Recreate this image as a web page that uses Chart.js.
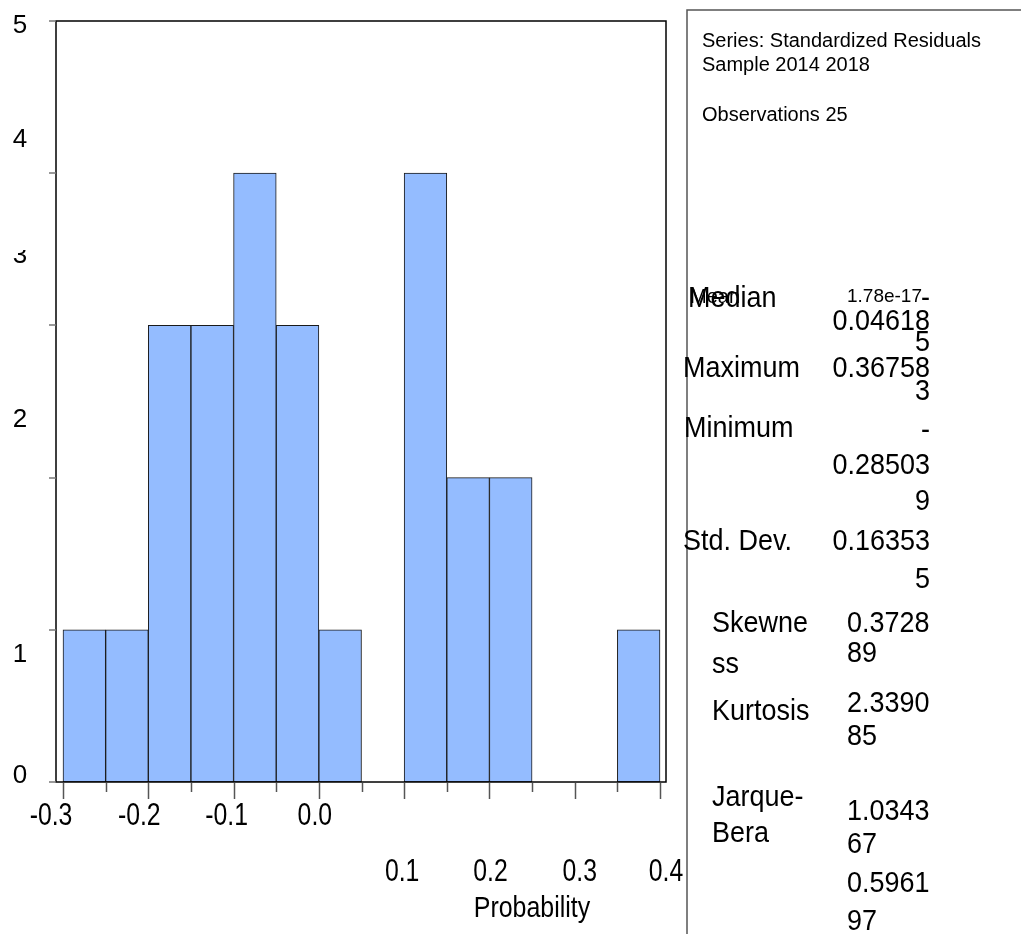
<!DOCTYPE html>
<html>
<head>
<meta charset="utf-8">
<title>Standardized Residuals histogram</title>
<script src="https://cdn.jsdelivr.net/npm/chart.js@4/dist/chart.umd.min.js"></script>
<style>
    html, body { margin: 0; padding: 0; background: #fff; }
    #wrap { position: relative; width: 1021px; height: 934px; }
</style>
</head>
<body>
<div id="wrap"><canvas id="hist" width="1021" height="934"></canvas></div>
<script>
// ==========================================================
// DATA
// ==========================================================
const binCenters = [-0.275, -0.225, -0.175, -0.125, -0.075, -0.025, 0.025,
                    0.075, 0.125, 0.175, 0.225, 0.275, 0.325, 0.375];
const counts = [1, 1, 3, 3, 4, 3, 1, 0, 4, 2, 2, 0, 0, 1];
const binEdges = [-0.3, -0.25, -0.2, -0.15, -0.1, -0.05, 0.0, 0.05,
                  0.1, 0.15, 0.2, 0.25, 0.3, 0.35, 0.4];
const xTickValues = [-0.3, -0.2, -0.1, 0.0, 0.1, 0.2, 0.3, 0.4];
const xTickLabels = ['-0.3', '-0.2', '-0.1', '0.0', '0.1', '0.2', '0.3', '0.4'];
const yTickValues = [0, 1, 2, 3, 4, 5];
const yTickLabels = ['0', '1', '2', '3', '4', '5'];

const headerLines = ['Series: Standardized Residuals', 'Sample 2014 2018', 'Observations 25'];
const statNames = ['Mean', 'Median', 'Maximum', 'Minimum', 'Std. Dev.', 'Skewness', 'Kurtosis', 'Jarque-Bera', 'Probability'];
const statValues = ['1.78e-17', '-0.046185', '0.367583', '-0.285039', '0.163535', '0.372889', '2.339085', '1.034367', '0.596197'];

// ==========================================================
// LAYOUT (pixel positions of the text, as in the export)
// ==========================================================
const FONT = "'Liberation Sans', Arial, sans-serif";
const BAR_FILL = 'rgb(148, 188, 255)';

// y labels are drawn a bit off their ticks, like the original
const yLabelBaselines = [783, 662, 427, 263, 147, 33];
const yLabelClipTop = [0, 0, 0, 250, 0, 0];
// x labels: negatives on the first row, positives dropped to a second row
const xLabelBaselines = [825, 825, 825, 825, 881, 881, 881, 881];
const xLabelShift = [-12, -9, -7, -4, -2, 1, 5, 6];

// stats panel, each piece of text placed on its own
// [text, x, baseline, size, align, scaleX]
function statsPieces() {
    const v = statValues;
    const B = 29, S = 0.93;
    return [
        [headerLines[0], 702, 47, 20, 'left', 1],
        [headerLines[1], 702, 71, 20, 'left', 1],
        [headerLines[2], 702, 121, 20, 'left', 1],

        [statNames[1], 688, 307, B, 'left', S],
        [statNames[0], 690, 303, 20, 'left', 1],
        [v[0], 922, 302, 19, 'right', 1],
        [v[1].slice(0, 1), 930, 307, B, 'right', S],
        [v[1].slice(1, 8), 930, 330, B, 'right', S],
        [v[1].slice(8), 930, 351, B, 'right', S],

        [statNames[2], 683, 377, B, 'left', S],
        [v[2].slice(0, 7), 930, 377, B, 'right', S],
        [v[2].slice(7), 930, 400, B, 'right', S],

        [statNames[3], 684, 437, B, 'left', S],
        [v[3].slice(0, 1), 930, 439, B, 'right', S],
        [v[3].slice(1, 8), 930, 474, B, 'right', S],
        [v[3].slice(8), 930, 510, B, 'right', S],

        [statNames[4], 683, 550, B, 'left', S],
        [v[4].slice(0, 7), 930, 550, B, 'right', S],
        [v[4].slice(7), 930, 588, B, 'right', S],

        [statNames[5].slice(0, 6), 712, 632, B, 'left', S],
        [statNames[5].slice(6), 712, 673, B, 'left', S],
        [v[5].slice(0, 6), 847, 632, B, 'left', S],
        [v[5].slice(6), 847, 662, B, 'left', S],

        [statNames[6], 712, 720, B, 'left', S],
        [v[6].slice(0, 6), 847, 712, B, 'left', S],
        [v[6].slice(6), 847, 745, B, 'left', S],

        [statNames[7].slice(0, 7), 712, 806, B, 'left', S],
        [statNames[7].slice(7), 712, 842, B, 'left', S],
        [v[7].slice(0, 6), 847, 820, B, 'left', S],
        [v[7].slice(6), 847, 853, B, 'left', S],

        [v[8].slice(0, 6), 847, 892, B, 'left', S],
        [v[8].slice(6), 847, 930, B, 'left', S]
    ];
}

function drawScaledText(ctx, txt, x, y, sx) {
    ctx.save();
    ctx.translate(x, y);
    ctx.scale(sx, 1);
    ctx.fillText(txt, 0, 0);
    ctx.restore();
}

// ==========================================================
// AXES + PANEL PLUGIN
// ==========================================================
const eviewsPlugin = {
    id: 'eviewsFrame',
    afterDatasetsDraw(chart) {
        const ctx = chart.ctx;
        const area = chart.chartArea;
        const xs = chart.scales.x;
        const ys = chart.scales.y;
        ctx.save();

        // plot frame
        ctx.strokeStyle = '#000';
        ctx.lineWidth = 1.5;
        ctx.strokeRect(area.left, area.top, area.right - area.left, area.bottom - area.top);

        // y tick marks
        ctx.strokeStyle = '#777';
        yTickValues.forEach(v => {
            const y = Math.round(ys.getPixelForValue(v));
            ctx.beginPath();
            ctx.moveTo(area.left - 7, y);
            ctx.lineTo(area.left, y);
            ctx.stroke();
        });

        // x tick marks, longer on the labelled ones
        ctx.strokeStyle = '#555';
        binEdges.forEach(v => {
            const x = Math.round(xs.getPixelForValue(v)) + 0.5;
            const major = xTickValues.some(t => Math.abs(t - v) < 1e-9);
            ctx.beginPath();
            ctx.moveTo(x, area.bottom + 1);
            ctx.lineTo(x, area.bottom + (major ? 17 : 10));
            ctx.stroke();
        });

        // y labels
        ctx.fillStyle = '#000';
        ctx.textAlign = 'center';
        ctx.textBaseline = 'alphabetic';
        ctx.font = `26px ${FONT}`;
        yTickLabels.forEach((lab, i) => {
            ctx.save();
            if (yLabelClipTop[i]) {
                ctx.beginPath();
                ctx.rect(0, yLabelClipTop[i], area.left - 8, 100);
                ctx.clip();
            }
            ctx.fillText(lab, 20, yLabelBaselines[i]);
            ctx.restore();
        });

        // x labels (narrow face)
        ctx.font = `31px ${FONT}`;
        xTickLabels.forEach((lab, i) => {
            const x = xs.getPixelForValue(xTickValues[i]) + xLabelShift[i];
            drawScaledText(ctx, lab, x, xLabelBaselines[i], 0.8);
        });

        // the stray "Probability" caption under the axis
        ctx.font = `29px ${FONT}`;
        drawScaledText(ctx, statNames[8], 532, 917, 0.86);

        // stats panel frame
        ctx.strokeStyle = '#555';
        ctx.lineWidth = 1.5;
        ctx.beginPath();
        ctx.moveTo(687, chart.height);
        ctx.lineTo(687, 10);
        ctx.lineTo(chart.width, 10);
        ctx.stroke();

        // stats panel text
        statsPieces().forEach(([txt, x, y, size, align, sx]) => {
            ctx.font = `${size}px ${FONT}`;
            ctx.textAlign = align;
            drawScaledText(ctx, txt, x, y, sx);
        });

        ctx.restore();
    }
};

// ==========================================================
// CHART
// ==========================================================
function buildChart() {
    const canvas = document.getElementById('hist');
    const points = binCenters.map((c, i) => ({ x: c, y: counts[i] === 0 ? null : counts[i] }));

    new Chart(canvas, {
        type: 'bar',
        data: {
            datasets: [{
                label: 'Standardized Residuals',
                data: points,
                backgroundColor: BAR_FILL,
                borderColor: '#1a1a1a',
                borderWidth: 1,
                borderSkipped: false,
                barPercentage: 1,
                categoryPercentage: 1
            }]
        },
        options: {
            responsive: false,
            animation: false,
            devicePixelRatio: 1,
            layout: { padding: { left: 56, top: 21, right: 355, bottom: 152 } },
            plugins: {
                legend: { display: false },
                tooltip: { enabled: false }
            },
            scales: {
                x: { type: 'linear', min: -0.30821, max: 0.40703, offset: false, display: false },
                y: { min: 0, max: 5, display: false }
            }
        },
        plugins: [eviewsPlugin]
    });
}

buildChart();
</script>
</body>
</html>
